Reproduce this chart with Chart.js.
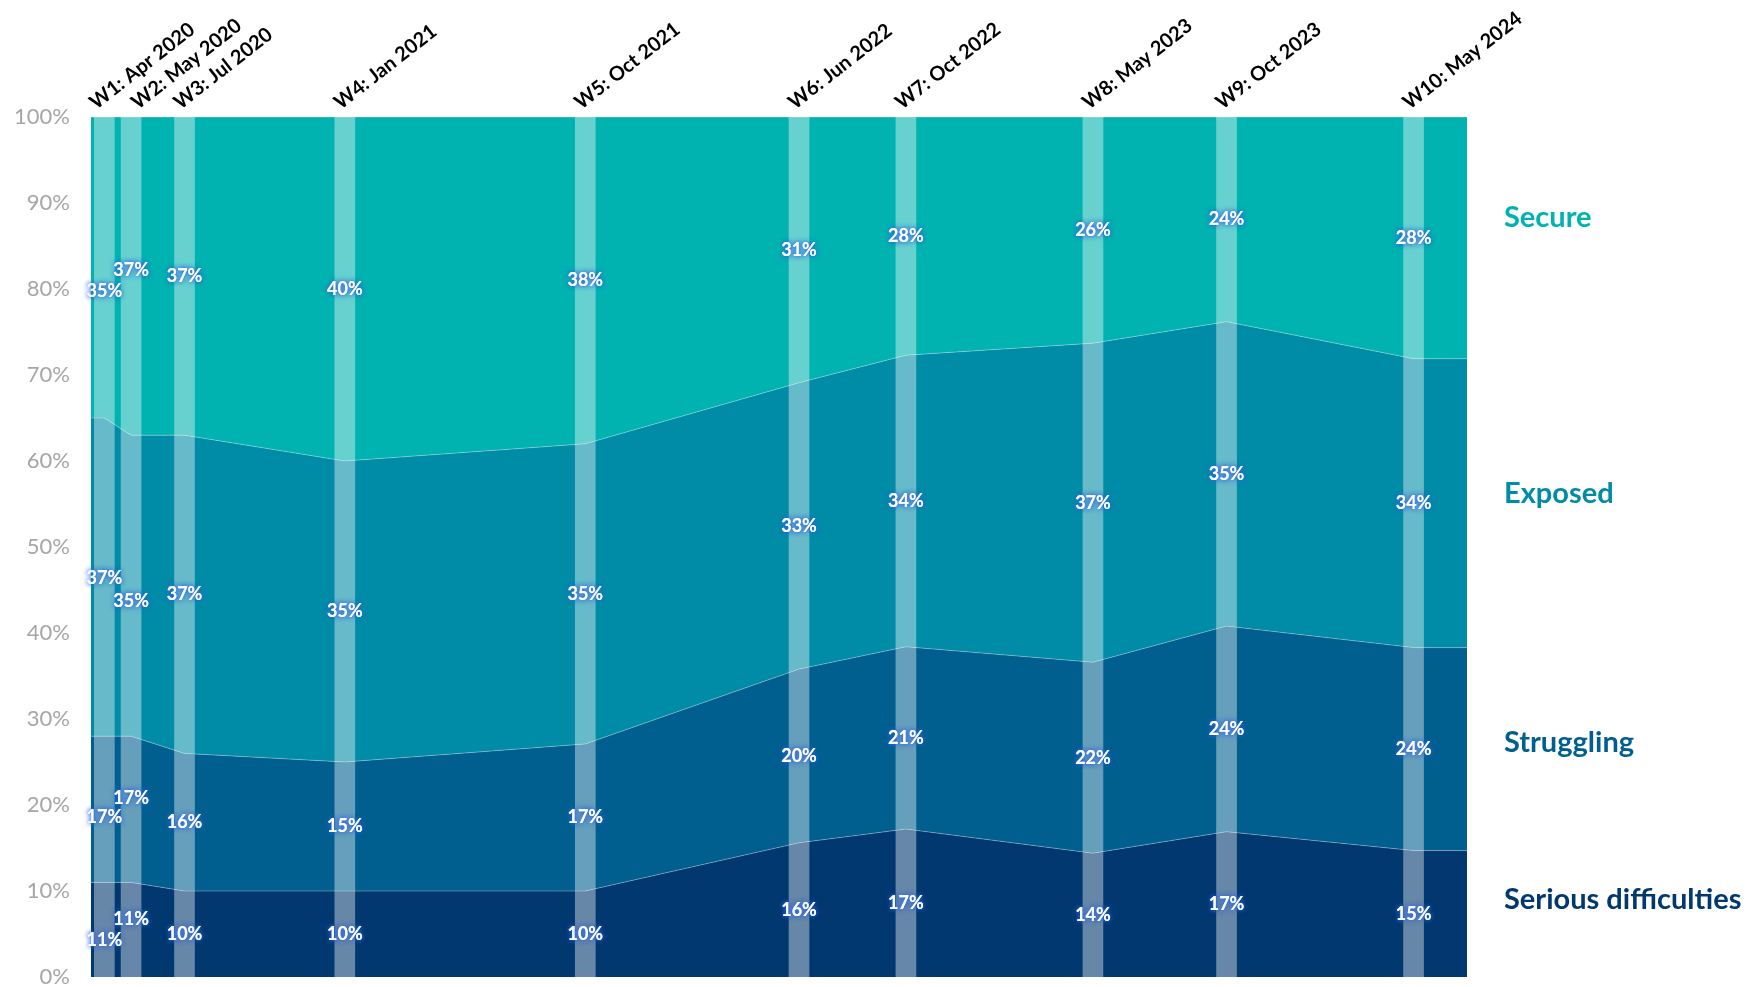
<!DOCTYPE html>
<html>
<head>
<meta charset="utf-8">
<title>Financial situation by wave</title>
<script src="https://cdn.jsdelivr.net/npm/chart.js@4/dist/chart.umd.min.js"></script>
<style>
  body { margin: 0; background: #ffffff; }
  canvas { display: block; }
</style>
</head>
<body>
<canvas id="myChart" width="1762" height="987"></canvas>
<script>
// wave labels and their months after April 2020 (the x axis is linear in months)
const waveLabels = ["W1: Apr 2020", "W2: May 2020", "W3: Jul 2020", "W4: Jan 2021", "W5: Oct 2021",
                    "W6: Jun 2022", "W7: Oct 2022", "W8: May 2023", "W9: Oct 2023", "W10: May 2024"];
const waveMonths = [0, 1, 3, 9, 18, 26, 30, 37, 42, 49];

// shares per group (%), bottom to top
const seriesNames = ["Serious difficulties", "Struggling", "Exposed", "Secure"];
const serious    = [11, 11, 10, 10, 10,   15.6, 17.2, 14.4, 16.9, 14.7];
const struggling = [17, 17, 16, 15, 17.1, 20.2, 21.2, 22.2, 23.9, 23.6];
const exposed    = [37, 35, 37, 35, 34.9, 33.3, 33.9, 37.1, 35.4, 33.6];
const secure     = [35, 37, 37, 40, 38,   30.9, 27.7, 26.3, 23.8, 28.1];

const yTicks = [0, 10, 20, 30, 40, 50, 60, 70, 80, 90, 100];

// styling
const colors = ["#00386f", "#005f8f", "#008ca6", "#00b3b0"];
const xMin = -0.5, xMax = 51;
// where the names at the right sit, in % on the y axis
const nameLevels = [9, 27.2, 56.2, 88.3];
// W1 and W2 labels are pushed up/down so they don't collide (px, per series)
const labelNudge = { 0: [10, 8, 1, 24], 1: [-11, -11, 15, -6] };
// extra sideways shift for the crowded wave names (px)
const waveNameShift = { 0: -4, 1: 11 };

const allSeries = [serious, struggling, exposed, secure];

// area points: one per wave, plus the first/last value carried to the plot edges
function toPoints(values) {
    var pts = [{ x: xMin, y: values[0] }];
    values.forEach((v, i) => pts.push({ x: waveMonths[i], y: v }));
    pts.push({ x: xMax, y: values[values.length - 1] });
    return pts;
}

var datasets = allSeries.map((values, i) => ({
    type: "line",
    label: seriesNames[i],
    data: toPoints(values),
    backgroundColor: colors[i],
    borderColor: "rgba(255,255,255,0.3)",
    borderWidth: 1,
    pointRadius: 0,
    tension: 0,
    fill: i === 0 ? "origin" : "-1",
    stack: "areas"
}));

// the pale vertical band at every wave
datasets.push({
    type: "bar",
    label: "bands",
    data: waveMonths.map(m => ({ x: m, y: 100 })),
    backgroundColor: "rgba(255,255,255,0.4)",
    barThickness: 20,
    stack: "bands",
    order: -1
});

// draws the wave names, the value labels and the group names
const labelPlugin = {
    id: "labels",
    afterDraw(chart) {
        const ctx = chart.ctx;
        const xs = chart.scales.x;
        const ys = chart.scales.y;

        // wave names on top, slanted
        ctx.save();
        ctx.fillStyle = "#000000";
        ctx.font = "bold 20px Lato";
        ctx.textAlign = "left";
        ctx.textBaseline = "alphabetic";
        waveLabels.forEach((label, i) => {
            var shift = waveNameShift[i] || 0;
            ctx.save();
            ctx.translate(xs.getPixelForValue(waveMonths[i]) - 4 + shift, 110);
            ctx.rotate(-38 * Math.PI / 180);
            ctx.fillText(label, 0, 0);
            ctx.restore();
        });
        ctx.restore();

        // percentages in the middle of each band
        ctx.save();
        ctx.font = "bold 18px Lato";
        ctx.textAlign = "center";
        ctx.textBaseline = "middle";
        ctx.fillStyle = "#ffffff";
        ctx.shadowColor = "rgba(40,100,230,0.95)";
        ctx.shadowBlur = 5;
        waveMonths.forEach((m, i) => {
            var base = 0;
            allSeries.forEach((values, s) => {
                var mid = base + values[i] / 2;
                base += values[i];
                var nudge = labelNudge[i] ? labelNudge[i][s] : 0;
                var px = xs.getPixelForValue(m);
                var py = ys.getPixelForValue(mid) + nudge;
                var txt = Math.round(values[i]) + "%";
                ctx.fillText(txt, px, py);
                ctx.fillText(txt, px, py);
            });
        });
        ctx.restore();

        // group names at the right
        ctx.save();
        ctx.font = "bold 29px Lato";
        ctx.textAlign = "left";
        ctx.textBaseline = "middle";
        seriesNames.forEach((name, i) => {
            ctx.fillStyle = colors[i];
            ctx.fillText(name, chart.chartArea.right + 37, ys.getPixelForValue(nameLevels[i]));
        });
        ctx.restore();
    }
};

const ctx = document.getElementById("myChart").getContext("2d");
const myChart = new Chart(ctx, {
    type: "line",
    data: { datasets: datasets },
    options: {
        responsive: false,
        animation: false,
        layout: { padding: { top: 117, right: 295, bottom: 10, left: 0 } },
        plugins: {
            legend: { display: false },
            tooltip: { enabled: false }
        },
        scales: {
            x: {
                type: "linear",
                min: xMin,
                max: xMax,
                offset: false,
                display: false
            },
            y: {
                stacked: true,
                min: 0,
                max: 100,
                afterFit: scale => {
                    scale.width = 91;
                    scale.paddingTop = 0;
                    scale.paddingBottom = 0;
                },
                afterBuildTicks: scale => { scale.ticks = yTicks.map(v => ({ value: v })); },
                border: { display: false },
                grid: { display: false, drawTicks: false },
                ticks: {
                    padding: 21,
                    color: "#a6a6a6",
                    font: { family: "Lato", size: 22 },
                    callback: v => v + "%"
                }
            }
        }
    },
    plugins: [labelPlugin]
});
</script>
</body>
</html>
